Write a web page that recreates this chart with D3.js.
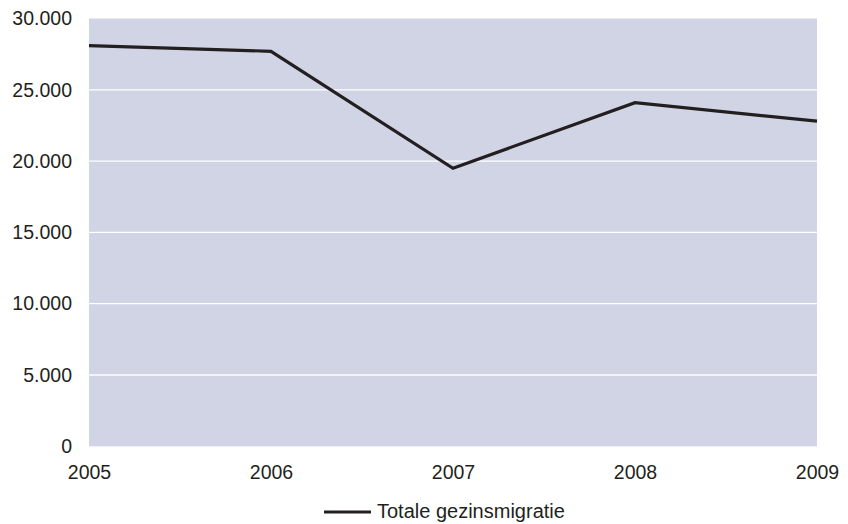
<!DOCTYPE html>
<html><head><meta charset="utf-8">
<script src="https://cdn.jsdelivr.net/npm/d3@7"></script>
<style>body{margin:0;background:#fff}text{font-family:"Liberation Sans",Arial,sans-serif;fill:#231f20}</style>
</head><body><svg id="c" width="848" height="524"></svg>
<script>
const years = ["2005","2006","2007","2008","2009"];
const values = [28100, 27700, 19500, 24100, 22800];
const yTicks = [0,5000,10000,15000,20000,25000,30000];
const seriesName = "Totale gezinsmigratie";

const svg = d3.select("#c");
const m = {l:89, r:817, t:18.5, b:446.3};
const x = d3.scalePoint().domain(years).range([m.l, m.r]);
const y = d3.scaleLinear().domain([0,30000]).range([m.b, m.t]);
const fmt = v => d3.format(",")(v).replace(/,/g, ".");
const FS = 19.5;

svg.append("rect").attr("x",m.l).attr("y",m.t).attr("width",m.r-m.l).attr("height",m.b-m.t).attr("fill","#d0d4e5");

svg.append("g").selectAll("line").data(yTicks.filter(t=>t>0&&t<30000)).join("line")
  .attr("x1",m.l).attr("x2",m.r).attr("y1",d=>y(d)).attr("y2",d=>y(d))
  .attr("stroke","#fff").attr("stroke-width",1.3);

const ya = svg.append("g").attr("transform",`translate(${m.l},0)`)
  .call(d3.axisLeft(y).tickValues(yTicks).tickFormat(fmt).tickSize(0).tickPadding(17));
ya.select(".domain").remove();
ya.selectAll("text").attr("font-size",FS).attr("fill","#231f20").style("font-family","Liberation Sans, Arial, sans-serif");

const xa = svg.append("g").attr("transform",`translate(0,${m.b})`)
  .call(d3.axisBottom(x).tickSize(0).tickPadding(18.5));
xa.select(".domain").remove();
xa.selectAll("text").attr("font-size",FS).attr("fill","#231f20").style("font-family","Liberation Sans, Arial, sans-serif");

svg.append("path").datum(values)
  .attr("d", d3.line().x((d,i)=>x(years[i])).y(d=>y(d)))
  .attr("fill","none").attr("stroke","#231f20").attr("stroke-width",3.2).attr("stroke-linejoin","miter");

const lg = svg.append("g");
lg.append("line").attr("x1",324).attr("x2",371).attr("y1",512).attr("y2",512).attr("stroke","#231f20").attr("stroke-width",3.2);
lg.append("text").attr("x",377).attr("y",518).attr("font-size",FS+0.5).text(seriesName);
</script></body></html>
